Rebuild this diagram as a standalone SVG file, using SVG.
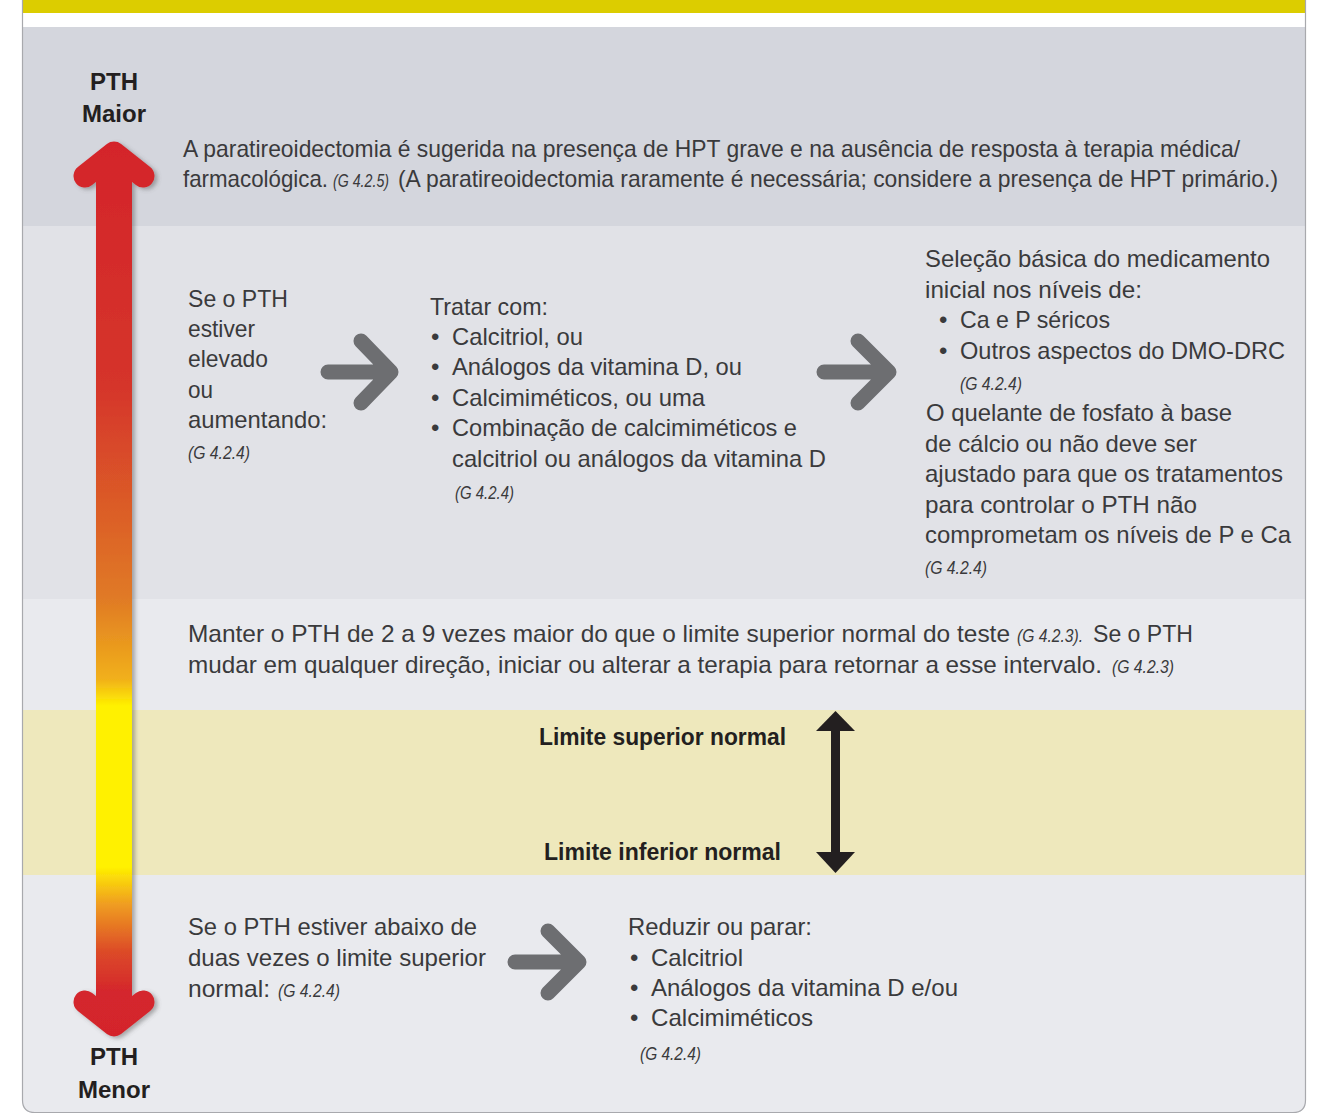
<svg xmlns="http://www.w3.org/2000/svg" width="1320" height="1115" viewBox="0 0 1320 1115">
<style>
.t{font-family:"Liberation Sans",Arial,sans-serif;font-size:24px;fill:#3a3a3c}
.r{font-family:"Liberation Sans",Arial,sans-serif;font-size:18px;font-style:italic;fill:#3a3a3c}
.b{font-family:"Liberation Sans",Arial,sans-serif;font-size:24px;font-weight:bold;fill:#231f20}
.ga{fill:none;stroke:#6d6e71;stroke-width:15;stroke-linecap:round;stroke-linejoin:round}
</style>
<defs>
<clipPath id="panel"><path d="M22,0 V1100 Q22,1113 35,1113 H1293 Q1306,1113 1306,1100 V0 Z"/></clipPath>
<linearGradient id="grad" gradientUnits="userSpaceOnUse" x1="0" y1="142" x2="0" y2="1037">
<stop offset="0" stop-color="#d4242c"/>
<stop offset="0.27" stop-color="#d5342b"/>
<stop offset="0.51" stop-color="#e07a25"/>
<stop offset="0.6" stop-color="#f1b01a"/>
<stop offset="0.63" stop-color="#fff100"/>
<stop offset="0.81" stop-color="#fff100"/>
<stop offset="0.85" stop-color="#f0a020"/>
<stop offset="0.905" stop-color="#dc4a28"/>
<stop offset="0.95" stop-color="#d4262d"/>
<stop offset="1" stop-color="#d4242c"/>
</linearGradient>
<filter id="sh" x="-50%" y="-10%" width="200%" height="120%">
<feDropShadow dx="3" dy="2" stdDeviation="2" flood-color="#555" flood-opacity="0.45"/>
</filter>
</defs>

<g id="background" clip-path="url(#panel)">
<rect x="22" y="0" width="1284" height="13" fill="#dccd00"/>
<rect x="22" y="13" width="1284" height="14" fill="#ffffff"/>
<rect x="22" y="27" width="1284" height="199" fill="#d4d6dd"/>
<rect x="22" y="226" width="1284" height="373" fill="#e1e2e7"/>
<rect x="22" y="599" width="1284" height="111" fill="#e9eaee"/>
<rect x="22" y="710" width="1284" height="165" fill="#eee8bc"/>
<rect x="22" y="875" width="1284" height="240" fill="#e9eaee"/>
</g>
<path d="M22.5,0 V1100 Q22.5,1112.5 35,1112.5 H1293 Q1305.5,1112.5 1305.5,1100 V0" fill="none" stroke="#a8a9ad" stroke-width="1.2"/>

<g id="pth-scale">
<g filter="url(#sh)">
<rect x="96" y="166" width="36" height="846" fill="url(#grad)"/>
<path d="M85,176 L114,153 L143,176" fill="none" stroke="url(#grad)" stroke-width="23" stroke-linecap="round" stroke-linejoin="round"/>
<path d="M85,1002 L114,1025 L143,1002" fill="none" stroke="url(#grad)" stroke-width="23" stroke-linecap="round" stroke-linejoin="round"/>
</g>
<text class="b" x="114" y="90" text-anchor="middle">PTH</text>
<text class="b" x="114" y="122" text-anchor="middle">Maior</text>
<text class="b" x="114" y="1065" text-anchor="middle">PTH</text>
<text class="b" x="114" y="1098" text-anchor="middle">Menor</text>
</g>

<g id="paratireoidectomia">
<text class="t" x="183" y="157" textLength="1057" lengthAdjust="spacingAndGlyphs">A paratireoidectomia é sugerida na presença de HPT grave e na ausência de resposta à terapia médica/</text>
<text class="t" x="183" y="187" textLength="145" lengthAdjust="spacingAndGlyphs">farmacológica.</text>
<text class="r" x="333" y="187" textLength="56" lengthAdjust="spacingAndGlyphs">(G 4.2.5)</text>
<text class="t" x="398" y="187" textLength="880" lengthAdjust="spacingAndGlyphs">(A paratireoidectomia raramente é necessária; considere a presença de HPT primário.)</text>
</g>

<g id="pth-elevado">
<text class="t" x="188" y="307" textLength="100" lengthAdjust="spacingAndGlyphs">Se o PTH</text>
<text class="t" x="188" y="337" textLength="67" lengthAdjust="spacingAndGlyphs">estiver</text>
<text class="t" x="188" y="367" textLength="80" lengthAdjust="spacingAndGlyphs">elevado</text>
<text class="t" x="188" y="398" textLength="25" lengthAdjust="spacingAndGlyphs">ou</text>
<text class="t" x="188" y="428" textLength="139" lengthAdjust="spacingAndGlyphs">aumentando:</text>
<text class="r" x="188" y="459" textLength="62" lengthAdjust="spacingAndGlyphs">(G 4.2.4)</text>
</g>

<g id="tratar">
<text class="t" x="430" y="315" textLength="118" lengthAdjust="spacingAndGlyphs">Tratar com:</text>
<text class="t" x="431" y="345">•</text>
<text class="t" x="452" y="345" textLength="131" lengthAdjust="spacingAndGlyphs">Calcitriol, ou</text>
<text class="t" x="431" y="375">•</text>
<text class="t" x="452" y="375" textLength="290" lengthAdjust="spacingAndGlyphs">Análogos da vitamina D, ou</text>
<text class="t" x="431" y="406">•</text>
<text class="t" x="452" y="406" textLength="253" lengthAdjust="spacingAndGlyphs">Calcimiméticos, ou uma</text>
<text class="t" x="431" y="436">•</text>
<text class="t" x="452" y="436" textLength="345" lengthAdjust="spacingAndGlyphs">Combinação de calcimiméticos e</text>
<text class="t" x="452" y="467" textLength="374" lengthAdjust="spacingAndGlyphs">calcitriol ou análogos da vitamina D</text>
<text class="r" x="455" y="499" textLength="59" lengthAdjust="spacingAndGlyphs">(G 4.2.4)</text>
</g>

<g id="selecao">
<text class="t" x="925" y="267" textLength="345" lengthAdjust="spacingAndGlyphs">Seleção básica do medicamento</text>
<text class="t" x="925" y="298" textLength="217" lengthAdjust="spacingAndGlyphs">inicial nos níveis de:</text>
<text class="t" x="939" y="328">•</text>
<text class="t" x="960" y="328" textLength="150" lengthAdjust="spacingAndGlyphs">Ca e P séricos</text>
<text class="t" x="939" y="359">•</text>
<text class="t" x="960" y="359" textLength="325" lengthAdjust="spacingAndGlyphs">Outros aspectos do DMO-DRC</text>
<text class="r" x="960" y="390" textLength="62" lengthAdjust="spacingAndGlyphs">(G 4.2.4)</text>
<text class="t" x="926" y="421" textLength="306" lengthAdjust="spacingAndGlyphs">O quelante de fosfato à base</text>
<text class="t" x="925" y="452" textLength="272" lengthAdjust="spacingAndGlyphs">de cálcio ou não deve ser</text>
<text class="t" x="925" y="482" textLength="358" lengthAdjust="spacingAndGlyphs">ajustado para que os tratamentos</text>
<text class="t" x="925" y="513" textLength="272" lengthAdjust="spacingAndGlyphs">para controlar o PTH não</text>
<text class="t" x="925" y="543" textLength="366" lengthAdjust="spacingAndGlyphs">comprometam os níveis de P e Ca</text>
<text class="r" x="925" y="574" textLength="62" lengthAdjust="spacingAndGlyphs">(G 4.2.4)</text>
</g>

<g id="manter">
<text class="t" x="188" y="642" textLength="822" lengthAdjust="spacingAndGlyphs">Manter o PTH de 2 a 9 vezes maior do que o limite superior normal do teste</text>
<text class="r" x="1017" y="642" textLength="66" lengthAdjust="spacingAndGlyphs">(G 4.2.3).</text>
<text class="t" x="1093" y="642" textLength="100" lengthAdjust="spacingAndGlyphs">Se o PTH</text>
<text class="t" x="188" y="673" textLength="914" lengthAdjust="spacingAndGlyphs">mudar em qualquer direção, iniciar ou alterar a terapia para retornar a esse intervalo.</text>
<text class="r" x="1112" y="673" textLength="62" lengthAdjust="spacingAndGlyphs">(G 4.2.3)</text>
</g>

<g id="limites">
<text class="b" x="539" y="745" textLength="247" lengthAdjust="spacingAndGlyphs">Limite superior normal</text>
<text class="b" x="544" y="860" textLength="237" lengthAdjust="spacingAndGlyphs">Limite inferior normal</text>
<line x1="835.5" y1="728" x2="835.5" y2="856" stroke="#231f20" stroke-width="9"/>
<polygon points="816,731 835.5,711 855,731" fill="#231f20"/>
<polygon points="816,852 835.5,873 855,852" fill="#231f20"/>
</g>

<g id="pth-abaixo">
<text class="t" x="188" y="935" textLength="289" lengthAdjust="spacingAndGlyphs">Se o PTH estiver abaixo de</text>
<text class="t" x="188" y="966" textLength="298" lengthAdjust="spacingAndGlyphs">duas vezes o limite superior</text>
<text class="t" x="188" y="997" textLength="82" lengthAdjust="spacingAndGlyphs">normal:</text>
<text class="r" x="278" y="997" textLength="62" lengthAdjust="spacingAndGlyphs">(G 4.2.4)</text>
</g>

<g id="reduzir">
<text class="t" x="628" y="935" textLength="184" lengthAdjust="spacingAndGlyphs">Reduzir ou parar:</text>
<text class="t" x="630" y="966">•</text>
<text class="t" x="651" y="966" textLength="92" lengthAdjust="spacingAndGlyphs">Calcitriol</text>
<text class="t" x="630" y="996">•</text>
<text class="t" x="651" y="996" textLength="307" lengthAdjust="spacingAndGlyphs">Análogos da vitamina D e/ou</text>
<text class="t" x="630" y="1026">•</text>
<text class="t" x="651" y="1026" textLength="162" lengthAdjust="spacingAndGlyphs">Calcimiméticos</text>
<text class="r" x="640" y="1060" textLength="61" lengthAdjust="spacingAndGlyphs">(G 4.2.4)</text>
</g>

<g id="connectors">
<path class="ga" d="M328,372 H389 M361,341 L391,372 L361,403"/>
<path class="ga" d="M824,372 H887 M858,341 L889,372 L858,403"/>
<path class="ga" d="M515,962 H577 M548,931 L579,962 L548,993"/>
</g>
</svg>
